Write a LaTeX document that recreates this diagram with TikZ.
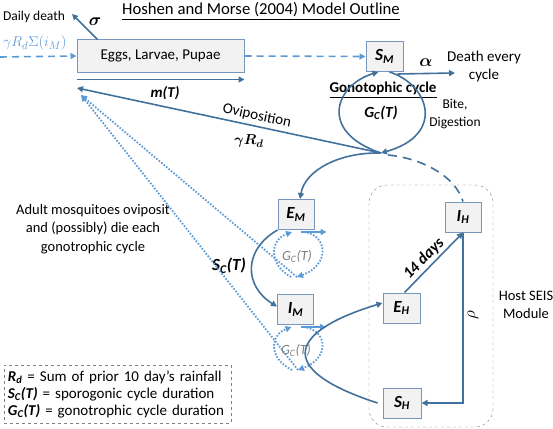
\documentclass[tikz,border=0pt]{standalone}
\usepackage{amsmath}
\usepackage{amssymb}
\usepackage{bm}
\usepackage{fontspec}
\setmainfont{Carlito}
\usepackage{tikz}
\usetikzlibrary{arrows.meta}
\definecolor{darkblu}{RGB}{65,113,156}
\definecolor{liteblu}{RGB}{91,155,213}
\definecolor{boxline}{RGB}{120,150,190}
\definecolor{boxfill}{RGB}{242,242,242}
\newcommand{\vsub}[2]{\textbf{\textit{#1\textsubscript{#2}}}}
\newcommand{\fsz}[1]{\fontsize{#1}{#1}\selectfont}
\tikzset{
    stage/.style={draw=boxline, fill=boxfill, line width=1pt,
    	minimum width=36pt, minimum height=30pt, inner sep=0pt,
    	font=\fsz{17}\bfseries\itshape}
}
\tikzset{
    txt/.style={inner sep=1pt, font=\fsz{14.5}},
    bld/.style={inner sep=1pt, font=\fsz{15}\bfseries\itshape},
    flow/.style={draw=darkblu, line width=1.6pt,
    	-{Triangle[length=6pt,width=6pt]}},
    feed/.style={draw=liteblu, line width=1.6pt, dash pattern=on 7pt off 5pt,
    	-{Triangle[length=6pt,width=6pt]}},
    loopdot/.style={draw=liteblu, line width=1.8pt,
    	dash pattern=on 1.6pt off 1.6pt, -{Triangle[length=6pt,width=6pt]}},
    short/.style={draw=liteblu, line width=1.6pt,
    	-{Triangle[length=6pt,width=6pt]}}
}

\begin{document}
\begin{tikzpicture}[x=1pt,y=-1pt]
	\useasboundingbox (0,0) rectangle (553,428);
	% boxes
	\node[stage, minimum width=167pt, minimum height=32pt,
		font=\fsz{15}] (elp) at (160.5,56)
		{Eggs, Larvae, Pupae};
	\node[stage, minimum width=37pt] (sm) at (384.5,56.5) {S\textsubscript{M}};
	\node[stage] (em) at (296,214.5) {E\textsubscript{M}};
	\node[stage] (im) at (295.5,309.5) {I\textsubscript{M}};
	\node[stage, minimum width=37pt] (eh) at (401.5,308) {E\textsubscript{H}};
	\node[stage] (ih) at (463,217) {I\textsubscript{H}};
	\node[stage, minimum width=38pt] (sh) at (402,403) {S\textsubscript{H}};

	\coordinate (j) at (381,153);
	\coordinate (src) at (0,57);
	\coordinate (dd) at (72,14);
	\coordinate (dth) at (455,73);
	\coordinate (eggin) at (77,88);
	\coordinate (ovi) at (81,95);
	\coordinate (eml) at (297,277);
	\coordinate (iml) at (298,370);

	% texts
	\node[txt, font=\fsz{16.7}] (title) at (261,11)
		{\underline{Hoshen and Morse (2004) Model Outline}};
	\node[txt, font=\fsz{13.5}] (ddt) at (34,17) {Daily death};
	\node[bld, font=\fsz{17}] (sig) at (95,22) {$\bm{\sigma}$};
	\node[txt, text=liteblu, font=\fsz{15}] (inp) at (35,43) {$\gamma R_d\Sigma(i_M)$};
	\node[bld] (mt) at (165,93) {m(T)};
	\node[bld, font=\fsz{17}] (alp) at (426,63) {$\bm{\alpha}$};
	\node[txt, font=\fsz{15}, align=center] (dtht) at (484,67)
		{Death every\\[3pt]cycle};
	\node[txt, font=\fsz{15}\bfseries] (gono) at (383,90)
		{\underline{Gonotophic cycle}};
	\node[bld, font=\fsz{15.5}\bfseries\itshape] (gcl) at (381,113) {G\textsubscript{C}(T)};
	\node[txt, font=\fsz{13.5}, align=center] (bite) at (455,114) {Bite,\\[4pt]Digestion};
	\node[txt, font=\fsz{15}, rotate=-12] (ovl) at (257,116) {Oviposition};
	\node[bld, font=\fsz{15.5}] (grd) at (249,141) {$\bm{\gamma R_d}$};
	\node[txt, align=center] (adult) at (93,229)
		{Adult mosquitoes oviposit\\[4pt]and (possibly) die each\\[4pt]gonotrophic cycle};
	\node[bld, font=\fsz{17}\bfseries\itshape] (scl) at (229,266) {S\textsubscript{C}(T)};
	\node[txt, text=gray, font=\fsz{14}\itshape] (gce)
		at (297,256) {G\textsubscript{C}(T)};
	\node[txt, text=gray, font=\fsz{14}\itshape] (gci)
		at (296,350) {G\textsubscript{C}(T)};
	\node[txt, font=\fsz{16}, rotate=90] (rho) at (473,315) {$\rho$};
	\node[txt, align=center] (host) at (526,305) {Host SEIS\\[4pt]Module};
	\node[txt, font=\fontsize{15}{17}\selectfont, draw=gray, dashed,
		text width=219pt, minimum height=58pt,
		align=left, inner sep=4pt] (leg) at (117.5,394)
		{\vsub{R}{d} = Sum of prior 10 day’s rainfall\\
		 \vsub{S}{C}\textbf{\textit{(T)}} = sporogonic cycle duration\\
		 \vsub{G}{C}\textbf{\textit{(T)}} = gonotrophic cycle duration};

	% host module
	\draw[gray, dashed, rounded corners=18pt] (369,185) rectangle (493,427);

	% larval stage
	\draw[flow] ([xshift=21pt]elp.north west) -- (dd);
	\draw[feed] (src) -- (elp.west);
	\draw[flow] ([yshift=-7pt]elp.south west) -- ([yshift=-7pt]elp.south east);
	\draw[feed] (elp.east) -- (sm.west);
	\draw[flow] ([xshift=-6pt,yshift=-2pt]sm.south east) -- (dth);

	% gonotrophic cycle
	\draw[flow] (j) .. controls (318,132) and (335,85) .. ([xshift=-6pt]sm.south);
	\draw[flow] ([xshift=5pt]sm.south) .. controls (430,85) and (445,135) .. (j);
	\draw[flow] (j) -- (eggin);
	\draw[flow] (j) .. controls (340,152) and (305,170) .. ([xshift=4pt]em.north);
	\draw[darkblu, line width=1.6pt, dash pattern=on 9pt off 6pt]
		([xshift=7pt,yshift=-2pt]j) .. controls (420,158) and (455,175) .. (ih.north);

	% mosquito stages
	\draw[short] ([xshift=5pt,yshift=-2pt]em.south) -- ([xshift=12pt,yshift=-2pt]em.south east);
	\draw[loopdot] ([xshift=8pt,yshift=-2pt]em.south) .. controls (328,235) and (330,265) .. (eml);
	\draw[loopdot] ([xshift=-6pt]eml) .. controls (268,264) and (270,240) .. ([xshift=-4pt,yshift=-2pt]em.south);
	\draw[short] ([xshift=5pt,yshift=-2pt]im.south) -- ([xshift=12pt,yshift=-2pt]im.south east);
	\draw[loopdot] ([xshift=8pt,yshift=-2pt]im.south) .. controls (328,330) and (330,358) .. (iml);
	\draw[loopdot] ([xshift=-6pt]iml) .. controls (268,358) and (270,335) .. ([xshift=-4pt,yshift=-2pt]im.south);
	\draw[loopdot] (eml) -- (ovi);
	\draw[loopdot] (iml) -- (ovi);
	\draw[flow] (em.south west) .. controls (243,250) and (244,286) .. ([yshift=3pt]im.west);

	% host stages
	\draw[flow] ([xshift=-5pt]sh.west) .. controls (270,368) and (293,330) .. ([yshift=5pt]eh.west);
	\draw[flow] ([xshift=3pt]eh.north) -- node[pos=0.45, sloped, above=1pt, bld, font=\fsz{16}\bfseries\itshape] {14 days} (ih.south);
	\draw[flow] (ih.south) -- (ih.south |- sh.east) -- (sh.east);
\end{tikzpicture}
\end{document}
